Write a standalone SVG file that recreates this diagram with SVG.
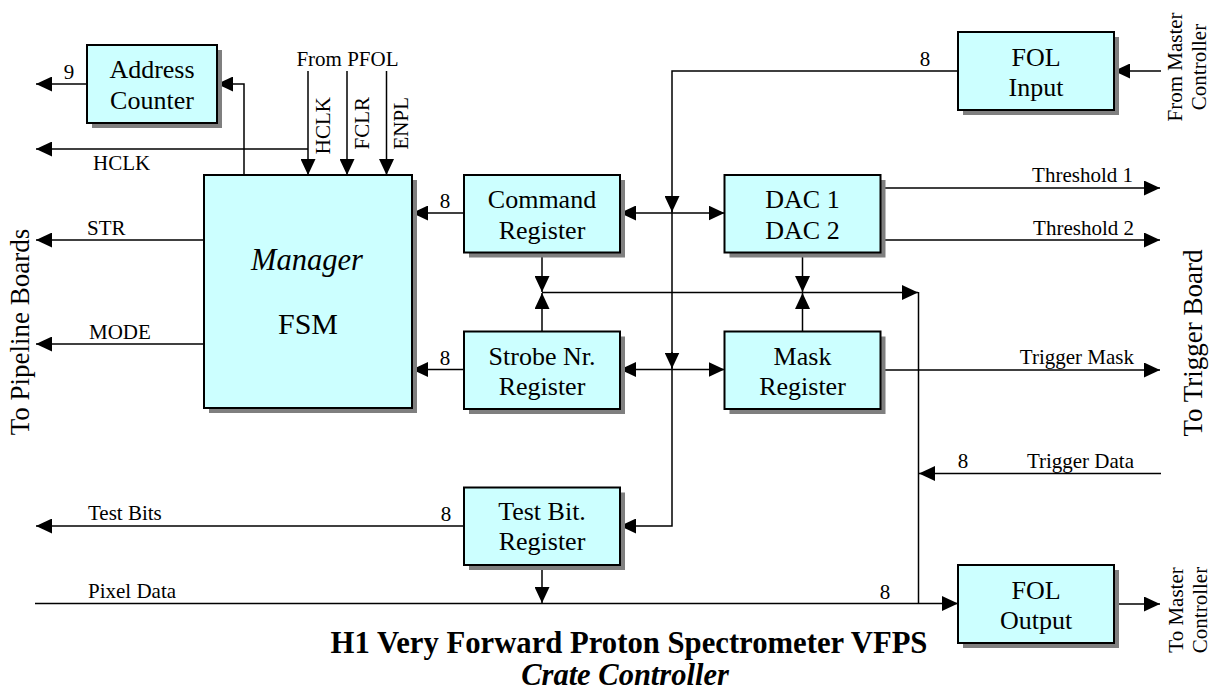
<svg xmlns="http://www.w3.org/2000/svg" width="1221" height="696" viewBox="0 0 1221 696">
  <style>
    text { font-family: "Liberation Serif", "Times New Roman", serif; fill: #000; }
    .box { fill: #ccffff; stroke: #000; stroke-width: 2; }
    .shadow { fill: #7f7f7f; }
    .lbl { font-size: 26px; text-anchor: middle; }
    .sm { font-size: 21px; }
    .mid { text-anchor: middle; }
    .end { text-anchor: end; }
    .side { font-size: 27px; text-anchor: middle; }
    .wire { fill: none; stroke: #000; stroke-width: 1.5; }
    .arr { marker-end: url(#ah); }
    .both { marker-start: url(#ah); marker-end: url(#ah); }
  </style>
  <defs>
    <marker id="ah" viewBox="0 0 16 15" refX="16" refY="7.5" markerWidth="16" markerHeight="15" markerUnits="userSpaceOnUse" orient="auto-start-reverse">
      <path d="M0,0 L16,7.5 L0,15 Z" fill="#000"/>
    </marker>
  </defs>
  <rect width="1221" height="696" fill="#fff"/>

  <!-- connectors -->
  <g id="connectors">
    <path class="wire arr" d="M87,84 H36"/>
    <path class="wire arr" d="M244,175 V84 H217"/>
    <path class="wire arr" d="M308,71 V175"/>
    <path class="wire arr" d="M347,71 V175"/>
    <path class="wire arr" d="M386.5,71 V175"/>
    <path class="wire arr" d="M308,149 H36"/>
    <path class="wire arr" d="M204,240 H36"/>
    <path class="wire arr" d="M204,344 H36"/>
    <path class="wire arr" d="M464,213 H412"/>
    <path class="wire arr" d="M464,369.5 H412"/>
    <path class="wire both" d="M620,213 H724.5"/>
    <path class="wire both" d="M620,369.5 H724.5"/>
    <!-- internal data bus from FOL input -->
    <path class="wire arr" d="M958,71 H672 V526 H620"/>
    <path class="wire arr" d="M672,196 V212"/>
    <path class="wire arr" d="M672,352 V368.5"/>
    <!-- register outputs to the monitor line -->
    <path class="wire arr" d="M542,252.5 V292"/>
    <path class="wire arr" d="M542,331.5 V293"/>
    <path class="wire arr" d="M802.5,252.5 V292"/>
    <path class="wire arr" d="M802.5,331.5 V293"/>
    <path class="wire arr" d="M542,292.5 H918"/>
    <path class="wire" d="M918.5,292 V604"/>
    <!-- outputs to trigger board -->
    <path class="wire arr" d="M875,188 H1160"/>
    <path class="wire arr" d="M880,240 H1160"/>
    <path class="wire arr" d="M880,370 H1160"/>
    <path class="wire arr" d="M1161,473.5 H919"/>
    <path class="wire arr" d="M1161,71 H1114"/>
    <path class="wire arr" d="M464,526 H36"/>
    <path class="wire arr" d="M542,565 V603"/>
    <path class="wire arr" d="M35,603.5 H958"/>
    <path class="wire arr" d="M1114,604 H1160"/>
  </g>

  <!-- nodes -->
  <g id="address-counter">
    <rect class="shadow" x="92" y="50" width="130" height="78"/>
    <rect class="box" x="87" y="45" width="130" height="78"/>
    <text class="lbl" x="152" y="78">Address</text>
    <text class="lbl" x="152" y="108.5">Counter</text>
  </g>
  <g id="manager-fsm">
    <rect class="shadow" x="209" y="180" width="208" height="233"/>
    <rect class="box" x="204" y="175" width="208" height="233"/>
    <text x="307" y="270" font-size="30.5" font-style="italic" text-anchor="middle">Manager</text>
    <text x="308" y="334" font-size="30" text-anchor="middle">FSM</text>
  </g>
  <g id="command-register">
    <rect class="shadow" x="469" y="180" width="156" height="77.5"/>
    <rect class="box" x="464" y="175" width="156" height="77.5"/>
    <text class="lbl" x="542" y="208">Command</text>
    <text class="lbl" x="542" y="238.5">Register</text>
  </g>
  <g id="strobe-register">
    <rect class="shadow" x="469" y="336.5" width="156" height="77.5"/>
    <rect class="box" x="464" y="331.5" width="156" height="77.5"/>
    <text class="lbl" x="542" y="364.5">Strobe Nr.</text>
    <text class="lbl" x="542" y="395">Register</text>
  </g>
  <g id="dac">
    <rect class="shadow" x="729.5" y="180" width="156" height="77.5"/>
    <rect class="box" x="724.5" y="175" width="156" height="77.5"/>
    <text class="lbl" x="802.5" y="208">DAC 1</text>
    <text class="lbl" x="802.5" y="238.5">DAC 2</text>
  </g>
  <g id="mask-register">
    <rect class="shadow" x="729.5" y="336.5" width="156" height="77.5"/>
    <rect class="box" x="724.5" y="331.5" width="156" height="77.5"/>
    <text class="lbl" x="802.5" y="364.5">Mask</text>
    <text class="lbl" x="802.5" y="395">Register</text>
  </g>
  <g id="testbit-register">
    <rect class="shadow" x="469" y="492.5" width="156" height="77.5"/>
    <rect class="box" x="464" y="487.5" width="156" height="77.5"/>
    <text class="lbl" x="542" y="519.5">Test Bit.</text>
    <text class="lbl" x="542" y="550">Register</text>
  </g>
  <g id="fol-input">
    <rect class="shadow" x="963" y="37" width="156" height="78"/>
    <rect class="box" x="958" y="32" width="156" height="78"/>
    <text class="lbl" x="1036" y="65.5">FOL</text>
    <text class="lbl" x="1036" y="95.5">Input</text>
  </g>
  <g id="fol-output">
    <rect class="shadow" x="963" y="570" width="156" height="78"/>
    <rect class="box" x="958" y="565" width="156" height="78"/>
    <text class="lbl" x="1036" y="598.5">FOL</text>
    <text class="lbl" x="1036" y="628.5">Output</text>
  </g>

  <!-- signal labels -->
  <g id="labels" class="sm">
    <text class="sm mid" x="69" y="79">9</text>
    <text class="sm mid" x="347.5" y="65.5">From PFOL</text>
    <text class="sm end" transform="translate(330,97) rotate(-90)">HCLK</text>
    <text class="sm end" transform="translate(368.5,97) rotate(-90)">FCLR</text>
    <text class="sm end" transform="translate(407.5,97) rotate(-90)">ENPL</text>
    <text class="sm" x="93" y="170">HCLK</text>
    <text class="sm" x="87" y="235">STR</text>
    <text class="sm" x="89" y="338.5">MODE</text>
    <text class="sm mid" x="445" y="208">8</text>
    <text class="sm mid" x="445" y="365">8</text>
    <text class="sm mid" x="925" y="66">8</text>
    <text class="sm end" x="1133" y="182">Threshold 1</text>
    <text class="sm end" x="1134" y="235">Threshold 2</text>
    <text class="sm end" x="1134" y="364">Trigger Mask</text>
    <text class="sm mid" x="963" y="468">8</text>
    <text class="sm end" x="1134" y="468">Trigger Data</text>
    <text class="sm" x="88" y="520">Test Bits</text>
    <text class="sm mid" x="446" y="520.5">8</text>
    <text class="sm" x="88" y="598">Pixel Data</text>
    <text class="sm mid" x="885" y="598.5">8</text>
    <text class="sm mid" transform="translate(1182,67) rotate(-90)">From Master</text>
    <text class="sm mid" transform="translate(1206,67) rotate(-90)">Controller</text>
    <text class="sm mid" transform="translate(1183,610) rotate(-90)">To Master</text>
    <text class="sm mid" transform="translate(1207,610) rotate(-90)">Controller</text>
    <text class="side" transform="translate(29,332) rotate(-90)">To Pipeline Boards</text>
    <text class="side" font-size="26.5" transform="translate(1202,343) rotate(-90)">To Trigger Board</text>
  </g>

  <!-- title -->
  <g id="title">
    <text x="629" y="653" font-size="30.7" font-weight="bold" text-anchor="middle">H1 Very Forward Proton Spectrometer VFPS</text>
    <text x="625" y="685" font-size="30.5" font-weight="bold" font-style="italic" text-anchor="middle">Crate Controller</text>
  </g>
</svg>
